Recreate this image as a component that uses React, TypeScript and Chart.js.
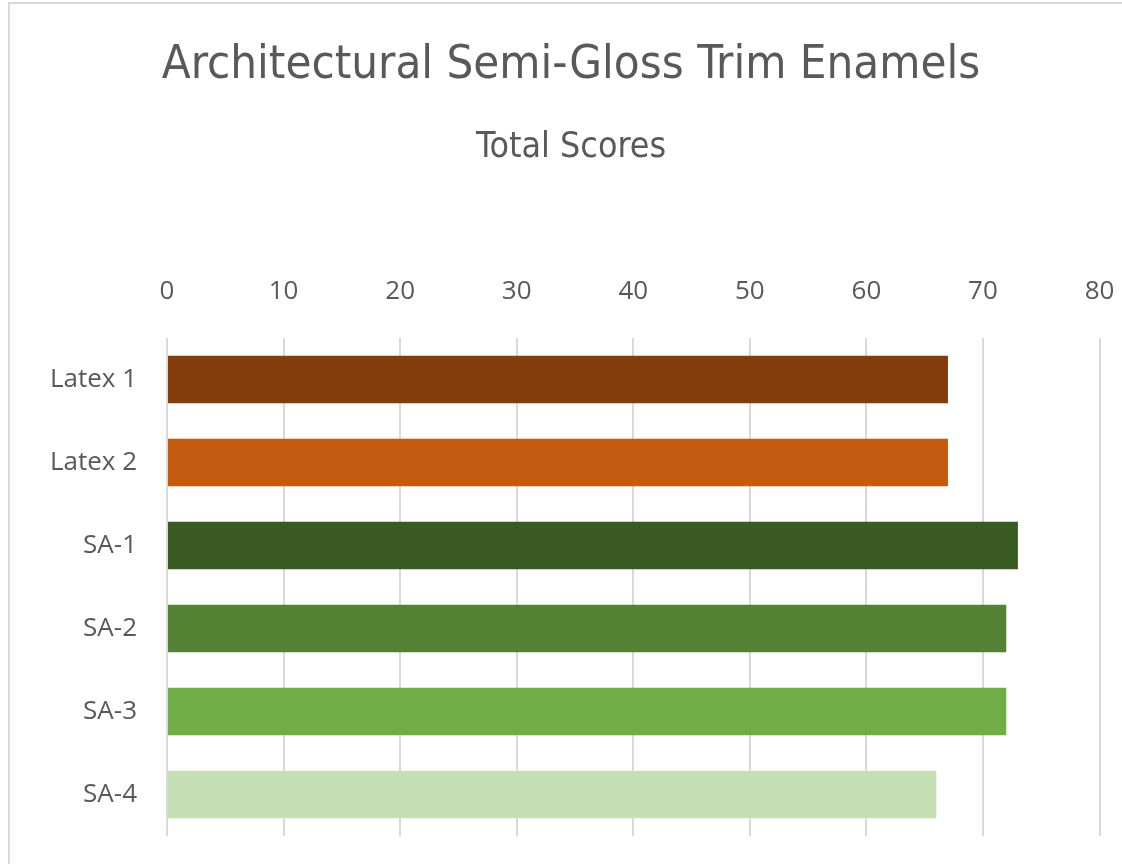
import React, { useEffect, useRef } from "react";
import { Chart, registerables } from "chart.js";

Chart.register(...registerables);

const titleText = "Architectural Semi-Gloss Trim Enamels";
const subtitleText = "Total Scores";
const categories = ["Latex 1", "Latex 2", "SA-1", "SA-2", "SA-3", "SA-4"];
const scores = [67, 67, 73, 72, 72, 66];
const barColors = ["#843C0C", "#C55A11", "#3A5A24", "#548235", "#70AD47", "#C5E0B4"];
const xMin = 0;
const xMax = 80;
const xStep = 10;

const W = 1122;
const H = 864;
const AREA_LEFT = 167;
const AREA_RIGHT = 1099.5;
const AREA_TOP = 338;
const AREA_BOTTOM = 836;

const TITLE_FONT = "'DejaVu Sans Condensed', 'DejaVu Sans', sans-serif";
const TICK_FONT = "'Open Sans', 'Noto Sans', sans-serif";
const TEXT_COLOR = "#595959";

const titleSize = 47;
const titlePadTop = 37.5;
const subtitleSize = 35.5;
const subtitlePadTop = 33;
const padLeft = 42.5;

export default function App() {
  const ref = useRef<HTMLCanvasElement | null>(null);

  useEffect(() => {
    if (!ref.current) return;
    const titleBlock = titlePadTop + titleSize * 1.2;
    const subtitleBlock = subtitlePadTop + subtitleSize * 1.2;
    const chart = new Chart(ref.current, {
      type: "bar",
      data: {
        labels: categories,
        datasets: [
          {
            data: scores,
            backgroundColor: barColors,
            borderWidth: 0,
            barPercentage: 0.575,
            categoryPercentage: 1,
          },
        ],
      },
      options: {
        indexAxis: "y",
        responsive: false,
        animation: false,
        layout: {
          padding: { left: padLeft, right: W - AREA_RIGHT, top: 0, bottom: H - AREA_BOTTOM },
        },
        plugins: {
          legend: { display: false },
          tooltip: { enabled: false },
          title: {
            display: true,
            text: titleText,
            color: TEXT_COLOR,
            font: { family: TITLE_FONT, size: titleSize, weight: "normal", lineHeight: 1.2 },
            padding: { top: titlePadTop, bottom: 0 },
          },
          subtitle: {
            display: true,
            text: subtitleText,
            color: TEXT_COLOR,
            font: { family: TITLE_FONT, size: subtitleSize, weight: "normal", lineHeight: 1.2 },
            padding: { top: subtitlePadTop, bottom: 0 },
          },
        },
        scales: {
          x: {
            position: "top",
            min: xMin,
            max: xMax,
            ticks: {
              stepSize: xStep,
              color: TEXT_COLOR,
              padding: 31,
              font: { family: TICK_FONT, size: 26 },
            },
            grid: { color: "#d9d9d9", lineWidth: 2, drawTicks: false },
            border: { display: false },
            afterFit: (scale: any) => {
              scale.height = AREA_TOP - titleBlock - subtitleBlock;
              scale.paddingLeft = 0;
              scale.paddingRight = 0;
              scale.paddingTop = 0;
              scale.paddingBottom = 0;
            },
          },
          y: {
            ticks: {
              color: TEXT_COLOR,
              padding: 30,
              font: { family: TICK_FONT, size: 26 },
            },
            grid: { display: false, drawTicks: false },
            border: { display: false },
            afterFit: (scale: any) => {
              scale.width = AREA_LEFT - padLeft;
              scale.paddingLeft = 0;
              scale.paddingRight = 0;
              scale.paddingTop = 0;
              scale.paddingBottom = 0;
            },
          },
        },
      },
    });
    return () => chart.destroy();
  }, []);

  return (
    <div
      style={{
        position: "absolute",
        left: 0,
        top: 0,
        width: W,
        height: H,
        overflow: "hidden",
        background: "#ffffff",
      }}
    >
      <div
        style={{
          position: "absolute",
          left: 8,
          top: 2,
          width: W + 100,
          height: H + 100,
          border: "2px solid #d9d9d9",
          boxSizing: "border-box",
        }}
      />
      <canvas
        ref={ref}
        width={W}
        height={H}
        style={{ position: "absolute", left: 0, top: 0, width: W, height: H }}
      />
    </div>
  );
}
